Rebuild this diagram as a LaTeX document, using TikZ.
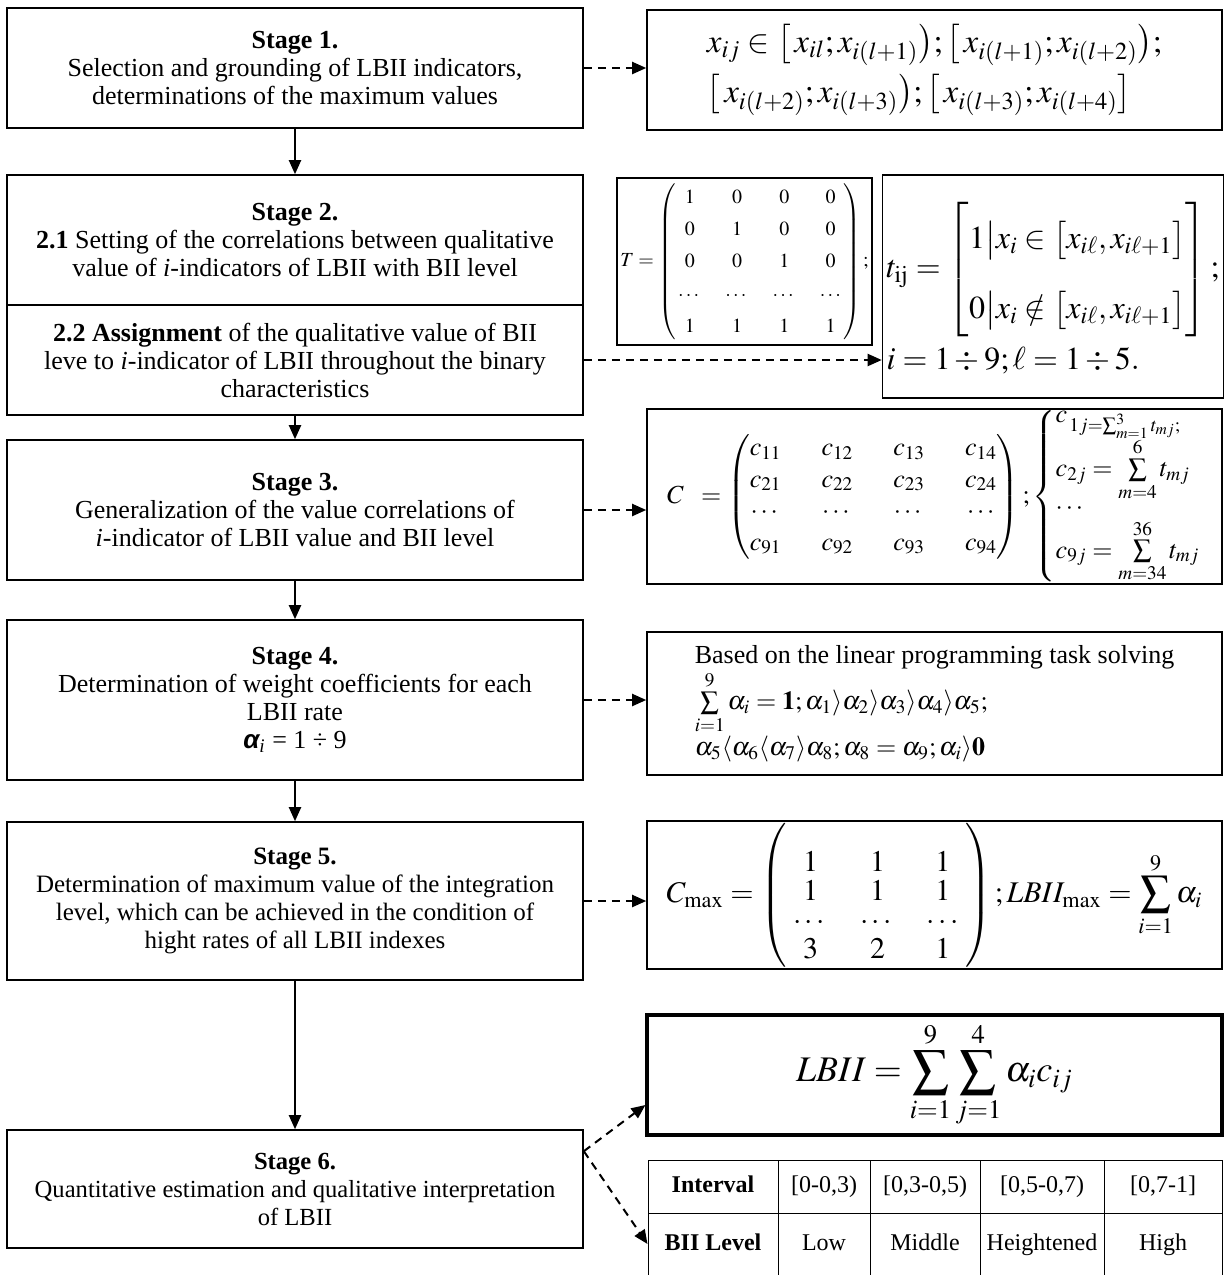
\documentclass[tikz,border=0pt]{standalone}
\usepackage{amsmath}
\usepackage{mathptmx}
\usepackage{fontspec}
\setmainfont{Liberation Serif}
\newfontfamily\alphafont{Liberation Sans}
\usetikzlibrary{arrows.meta,calc}

\tikzset{
  stage/.style={draw,line width=0.8pt,minimum width=288pt,align=center,inner sep=2pt,font=\fontsize{13}{14}\selectfont},
  fbox/.style={draw,line width=0.8pt,inner sep=3pt},
  cell/.style={draw,line width=0.5pt,inner sep=1pt,text height=9pt,text depth=3pt,font=\fontsize{12}{14}\selectfont},
  flow/.style={-{Triangle[length=7pt,width=6pt]},line width=1pt},
  dflow/.style={flow,dash pattern=on 4pt off 3pt}
}

\begin{document}
\begin{tikzpicture}[x=0.5pt,y=-0.5pt]
\useasboundingbox (0,0) rectangle (1225,1275);
% stages (left column)
\node[stage,minimum height=60pt] (s1) at (295,68) {\textbf{Stage 1.}\\Selection and grounding of LBII indicators,\\determinations of the maximum values};
\node[stage,minimum height=65pt] (s2a) at (295,240) {\textbf{Stage 2.}\\\textbf{2.1} Setting of the correlations between qualitative\\value of \textit{i}-indicators of LBII with BII level};
\node[stage,minimum height=55pt] (s2b) at (295,360) {\textbf{2.2 Assignment} of the qualitative value of BII\\leve to \textit{i}-indicator of LBII throughout the binary\\characteristics};
\node[stage,minimum height=70pt] (s3) at (295,510) {\textbf{Stage 3.}\\Generalization of the value correlations of\\\textit{i}-indicator of LBII value and BII level};
\node[stage,minimum height=80pt] (s4) at (295,700) {\textbf{Stage 4.}\\Determination of weight coefficients for each\\LBII rate\\{\alphafont\bfseries\itshape α}\textsubscript{\itshape i} = 1 ÷ 9};
\node[stage,minimum height=79pt,font=\fontsize{12.5}{14}\selectfont] (s5) at (295,901) {\textbf{Stage 5.}\\Determination of maximum value of the integration\\level, which can be achieved in the condition of\\hight rates of all LBII indexes};
\node[stage,minimum height=59pt,font=\fontsize{12.3}{14}\selectfont] (s6) at (295,1189) {\textbf{Stage 6.}\\Quantitative estimation and qualitative interpretation\\of LBII};
%
% formulas (right column)
\node[fbox,minimum width=287.5pt,minimum height=60pt,inner sep=1pt,align=left,font=\fontsize{16.5}{25}\selectfont] (r1) at (934.5,70)
  {$x_{ij}\in\bigl[\,x_{il};x_{i(l+1)}\bigr);\bigl[\,x_{i(l+1)};x_{i(l+2)}\bigr);$\\
   $\bigl[\,x_{i(l+2)};x_{i(l+3)}\bigr);\bigl[\,x_{i(l+3)};x_{i(l+4)}\bigr]$};
\node[fbox,minimum width=127.5pt,minimum height=83.5pt,inner sep=1pt,font=\fontsize{10}{12}\selectfont] (tmat) at (744.5,261.5)
  {\renewcommand\arraystretch{1.35}\setlength\arraycolsep{6pt}%
   $T=\left(\,\begin{array}{@{}cccc@{}}1&0&0&0\\0&1&0&0\\0&0&1&0\\\cdots&\cdots&\cdots&\cdots\\1&1&1&1\end{array}\,\right);$};
\node[fbox,minimum width=169pt,minimum height=111.5pt,align=left,inner sep=2pt,font=\fontsize{16}{20}\selectfont] (tij) at (1053,286.5)
  {\renewcommand\arraystretch{1.75}%
   $t_{\mathrm{ij}}=\left[\begin{array}{@{}l@{}}1\big|x_i\in\bigl[x_{i\ell},x_{i\ell+1}\bigr]\\0\big|x_i\notin\bigl[x_{i\ell},x_{i\ell+1}\bigr]\end{array}\right];$\\[3pt]
   $i=1\div9;\ell=1\div5.$};
\node[fbox,minimum width=287.5pt,minimum height=83.5pt,inner sep=0.5pt,font=\fontsize{13}{15}\selectfont] (r3) at (934.5,496.5)
  {\renewcommand\arraystretch{1.05}\setlength\arraycolsep{10pt}%
   $C\;\;=\begin{pmatrix}c_{11}&c_{12}&c_{13}&c_{14}\\c_{21}&c_{22}&c_{23}&c_{24}\\\cdots&\cdots&\cdots&\cdots\\c_{91}&c_{92}&c_{93}&c_{94}\end{pmatrix};
   \renewcommand\arraystretch{0.6}%
   \left\{\begin{array}{@{}l@{}}c_{\,1j=\sum_{m=1}^{3}t_{mj};}\\
   c_{2j}=\sum\limits_{m=4}^{6}t_{mj}\\
   \cdots\\
   c_{9j}=\sum\limits_{m=34}^{36}t_{mj}\end{array}\right.$};
\node[fbox,minimum width=287.5pt,minimum height=71.5pt,align=left,font=\fontsize{13}{16}\selectfont] (r4) at (934.5,703.5)
  {Based on the linear programming task solving\\
   $\sum\limits_{i=1}^{9}\alpha_i=\mathbf{1};\alpha_1\rangle\alpha_2\rangle\alpha_3\rangle\alpha_4\rangle\alpha_5;$\\
   $\alpha_5\langle\alpha_6\langle\alpha_7\rangle\alpha_8;\alpha_8=\alpha_9;\alpha_i\rangle\mathbf{0}$};
\node[fbox,minimum width=287.5pt,minimum height=73pt,inner sep=1pt,font=\fontsize{15}{18}\selectfont] (r5) at (934.5,895)
  {\renewcommand\arraystretch{0.8}\setlength\arraycolsep{8pt}%
   $C_{\max}=\left(\;\begin{array}{@{}ccc@{}}&&\\1&1&1\\1&1&1\\\cdots&\cdots&\cdots\\3&2&1\end{array}\;\right);LBII_{\max}=\displaystyle\sum_{i=1}^{9}\alpha_i$};
\node[fbox,line width=1.6pt,minimum width=287.5pt,minimum height=60pt,font=\fontsize{18}{22}\selectfont] (lbii) at (934.5,1075)
  {$LBII=\displaystyle\sum_{i=1}^{9}\sum_{j=1}^{4}\alpha_i c_{ij}$};
%
% table of levels
\node[cell,minimum width=65pt,minimum height=26.5pt] (int) at (713,1186.5) {\textbf{Interval}};
\node[cell,minimum width=46pt,minimum height=26.5pt] (i1) at (824,1186.5) {[0-0,3)};
\node[cell,minimum width=55pt,minimum height=26.5pt] (i2) at (925,1186.5) {[0,3-0,5)};
\node[cell,minimum width=62pt,minimum height=26.5pt] (i3) at (1042,1186.5) {[0,5-0,7)};
\node[cell,minimum width=59pt,minimum height=26.5pt] (i4) at (1163,1186.5) {[0,7-1]};
\node[cell,minimum width=65pt,minimum height=31pt] (lev) at (713,1244) {\textbf{BII Level}};
\node[cell,minimum width=46pt,minimum height=31pt] (l1) at (824,1244) {Low};
\node[cell,minimum width=55pt,minimum height=31pt] (l2) at (925,1244) {Middle};
\node[cell,minimum width=62pt,minimum height=31pt] (l3) at (1042,1244) {Heightened};
\node[cell,minimum width=59pt,minimum height=31pt] (l4) at (1163,1244) {High};
%
% arrows between stages
\draw[flow] (s1) -- (s2a);
\draw[flow] (s2b) -- (s3);
\draw[flow] (s3) -- (s4);
\draw[flow] (s4) -- (s5);
\draw[flow] (s5) -- (s6);
% dashed arrows to formulas
\draw[dflow] (s1.east) -- (s1.east -| r1.west);
\draw[dflow] (s2b.east) -- (s2b.east -| tij.west);
\draw[dflow] (s3.east) -- (s3.east -| r3.west);
\draw[dflow] (s4.east) -- (s4.east -| r4.west);
\draw[dflow] (s5.east) -- (s5.east -| r5.west);
\coordinate (fork) at ($(s6.north east)+(0,22)$);
\draw[dflow] (fork) -- ([yshift=-15pt]lbii.west);
\draw[dflow] (fork) -- (lev.west);
\end{tikzpicture}
\end{document}
